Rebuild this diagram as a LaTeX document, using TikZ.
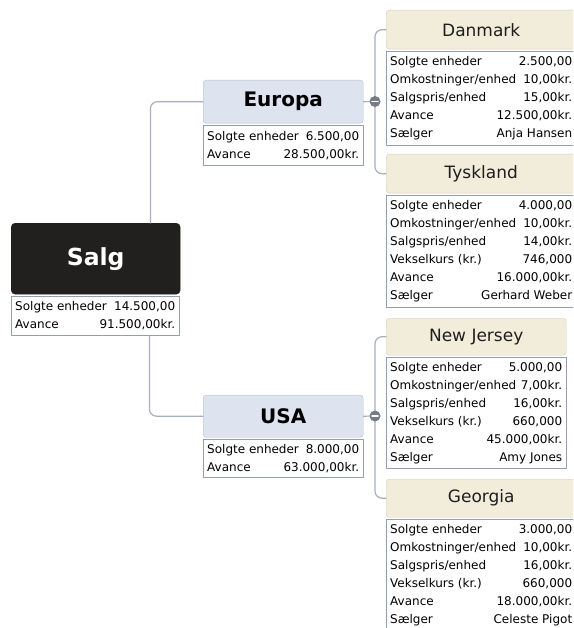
\documentclass[tikz,border=0pt]{standalone}
\usepackage{fontspec}
\setmainfont{DejaVu Sans}
\definecolor{salgfill}{RGB}{34,31,31}
\definecolor{omrfill}{RGB}{222,228,239}
\definecolor{omrline}{RGB}{178,188,206}
\definecolor{landfill}{RGB}{242,237,219}
\definecolor{landline}{RGB}{214,207,181}
\definecolor{landtext}{RGB}{30,30,30}
\definecolor{tabline}{RGB}{146,158,180}
\definecolor{linkgray}{RGB}{168,174,188}
\definecolor{forkgray}{RGB}{118,123,134}
\begin{document}
\begin{tikzpicture}[x=1pt,y=-1pt,line join=round,line cap=round,
    link/.style={draw=linkgray,line width=1.2pt,rounded corners=7pt},
    hoved/.style={anchor=north west,draw=salgfill,fill=salgfill,rounded corners=4pt,text=white,
        font=\bfseries\fontsize{23.5}{28}\selectfont,minimum width=169pt,minimum height=71pt},
    omraade/.style={anchor=north west,draw=omrline,fill=omrfill,rounded corners=3pt,
        font=\bfseries\fontsize{20}{24}\selectfont,minimum width=160pt,minimum height=43pt},
    land/.style={anchor=north west,draw=landline,fill=landfill,rounded corners=3pt,text=landtext,
        font=\fontsize{17}{20}\selectfont,minimum height=38pt},
    tabel/.style={anchor=north west,draw=tabline,fill=white,inner xsep=4pt,inner ysep=0pt,
        align=justify,font=\fontsize{12}{18}\selectfont},
    fork/.style={circle,fill=forkgray,minimum size=11pt,inner sep=0pt}]
    \def\rk#1#2{#1\hfill #2}
    \useasboundingbox (0,0) rectangle (573,628);
    \clip (0,0) rectangle (573,628);

    % hovedemne
    \node[hoved] (salg) at (11,223) {Salg};
    \node[tabel,text width=160pt,minimum height=39pt] (salg-tab) at ([yshift=-2pt]salg.south west)
        {\rk{Solgte enheder}{14.500,00}\\ \rk{Avance}{91.500,00kr.}};

    % omraader
    \node[omraade] (europa) at (203,80) {Europa};
    \node[tabel,text width=152pt,minimum height=40pt] (europa-tab) at ([yshift=-2pt]europa.south west)
        {\rk{Solgte enheder}{6.500,00}\\ \rk{Avance}{28.500,00kr.}};
    \node[omraade,minimum height=42pt] (usa) at (203,395) {USA};
    \node[tabel,text width=152pt,minimum height=38pt] (usa-tab) at ([yshift=-2pt]usa.south west)
        {\rk{Solgte enheder}{8.000,00}\\ \rk{Avance}{63.000,00kr.}};

    % lande
    \node[land,minimum width=190pt,minimum height=39pt] (dk) at (386,10) {Danmark};
    \node[tabel,text width=182pt,minimum height=94pt] (dk-tab) at ([yshift=-2pt]dk.south west)
        {\rk{Solgte enheder}{2.500,00}\\ \rk{Omkostninger/enhed}{10,00kr.}\\
         \rk{Salgspris/enhed}{15,00kr.}\\ \rk{Avance}{12.500,00kr.}\\ \rk{Sælger}{Anja Hansen}};
    \node[land,minimum width=190pt,minimum height=39pt] (de) at (386,154) {Tyskland};
    \node[tabel,text width=182pt,minimum height=112pt] (de-tab) at ([yshift=-2pt]de.south west)
        {\rk{Solgte enheder}{4.000,00}\\ \rk{Omkostninger/enhed}{10,00kr.}\\
         \rk{Salgspris/enhed}{14,00kr.}\\ \rk{Vekselkurs (kr.)}{746,000}\\
         \rk{Avance}{16.000,00kr.}\\ \rk{Sælger}{Gerhard Weber}};
    \node[land,minimum width=180pt,minimum height=37pt] (nj) at (386,318) {New Jersey};
    \node[tabel,text width=172pt,minimum height=111pt] (nj-tab) at ([yshift=-2pt]nj.south west)
        {\rk{Solgte enheder}{5.000,00}\\ \rk{Omkostninger/enhed}{7,00kr.}\\
         \rk{Salgspris/enhed}{16,00kr.}\\ \rk{Vekselkurs (kr.)}{660,000}\\
         \rk{Avance}{45.000,00kr.}\\ \rk{Sælger}{Amy Jones}};
    \node[land,minimum width=190pt,minimum height=38pt] (ga) at (386,479) {Georgia};
    \node[tabel,text width=182pt,minimum height=112pt] (ga-tab) at ([yshift=-2pt]ga.south west)
        {\rk{Solgte enheder}{3.000,00}\\ \rk{Omkostninger/enhed}{10,00kr.}\\
         \rk{Salgspris/enhed}{16,00kr.}\\ \rk{Vekselkurs (kr.)}{660,000}\\
         \rk{Avance}{18.000,00kr.}\\ \rk{Sælger}{Celeste Pigot}};

    % forbindelser
    \coordinate (eu-fork) at (375,101.5);
    \coordinate (us-fork) at (375,416);
    \draw[link] ([xshift=-30pt]salg.north east) |- (europa.west);
    \draw[link] ([xshift=-30pt]salg-tab.south east) |- (usa.west);
    \draw[link] (europa.east) -- (eu-fork);
    \draw[link] (usa.east) -- (us-fork);
    \draw[link] (eu-fork) |- (dk.west);
    \draw[link] (eu-fork) |- (de.west);
    \draw[link] (us-fork) |- (nj.west);
    \draw[link] (us-fork) |- (ga.west);
    \foreach \f in {eu,us}
    {
        \node[fork] (\f-dot) at (\f-fork) {};
        \draw[white,line width=1.6pt] ([xshift=-3pt]\f-dot.center) -- ([xshift=3pt]\f-dot.center);
    }
\end{tikzpicture}
\end{document}
